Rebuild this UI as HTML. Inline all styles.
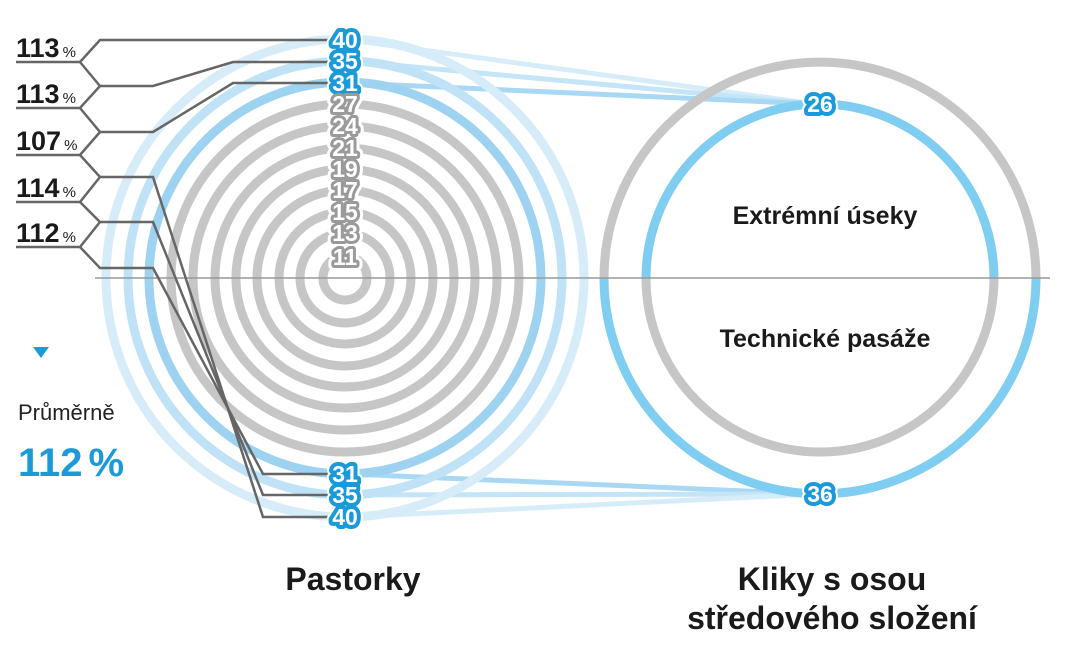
<!DOCTYPE html>
<html><head><meta charset="utf-8"><style>
html,body{margin:0;padding:0;background:#fff;}
svg{display:block;font-family:"Liberation Sans","DejaVu Sans",sans-serif;}
</style></head><body>
<svg width="1073" height="655" viewBox="0 0 1073 655" xmlns="http://www.w3.org/2000/svg">
<g stroke-width="5" fill="none">
<line x1="350" y1="40" x2="815" y2="104" stroke="#d7ecf9"/>
<line x1="350" y1="61" x2="815" y2="104" stroke="#c4e4f7"/>
<line x1="350" y1="83" x2="815" y2="104" stroke="#a8d8f3"/>
<line x1="350" y1="474" x2="815" y2="494" stroke="#a8d8f3"/>
<line x1="350" y1="495" x2="815" y2="494" stroke="#c4e4f7"/>
<line x1="350" y1="517" x2="815" y2="494" stroke="#d7ecf9"/>
</g>
<g fill="none" stroke-width="9">
<circle cx="345" cy="278" r="239" stroke="#d7ecf9"/>
<circle cx="345" cy="278" r="217" stroke="#bfe2f7"/>
<circle cx="345" cy="278" r="196" stroke="#9dd3f1"/>
<g stroke="#c6c6c6">
<circle cx="345" cy="278" r="174"/>
<circle cx="345" cy="278" r="152"/>
<circle cx="345" cy="278" r="130"/>
<circle cx="345" cy="278" r="109"/>
<circle cx="345" cy="278" r="88"/>
<circle cx="345" cy="278" r="66"/>
<circle cx="345" cy="278" r="45"/>
<circle cx="345" cy="278" r="22"/>
</g>
</g>
<g fill="none" stroke-width="9">
<path d="M604 278 A216 216 0 0 1 1036 278" stroke="#c6c6c6"/>
<path d="M646 278 A174 174 0 0 1 994 278" stroke="#7fcdf0"/>
<path d="M604 278 A216 216 0 0 0 1036 278" stroke="#7fcdf0"/>
<path d="M646 278 A174 174 0 0 0 994 278" stroke="#c6c6c6"/>
</g>
<line x1="95" y1="278" x2="1050" y2="278" stroke="#999" stroke-width="1.5"/>
<g fill="none" stroke="#666" stroke-width="2.5">
<polyline points="16,62 80,62 100,40 330,40"/>
<polyline points="80,62 100,86 153,86 233,62 330,62"/>
<polyline points="16,108 80,108 100,86"/>
<polyline points="80,108 100,132 153,132 233,83 330,83"/>
<polyline points="16,155 80,155 100,132"/>
<polyline points="80,155 100,177 153,177 263,517 330,517"/>
<polyline points="16,202 80,202 100,177"/>
<polyline points="80,202 100,222 153,222 263,495 330,495"/>
<polyline points="16,247 80,247 100,222"/>
<polyline points="80,247 100,268 153,268 263,474 330,474"/>
</g>
<g fill="#1a1a1a" font-weight="bold" font-size="27">
<text x="16" y="57">113<tspan font-size="15" font-weight="normal" dx="3">%</tspan></text>
<text x="16" y="103">113<tspan font-size="15" font-weight="normal" dx="3">%</tspan></text>
<text x="16" y="150">107<tspan font-size="15" font-weight="normal" dx="3">%</tspan></text>
<text x="16" y="197">114<tspan font-size="15" font-weight="normal" dx="3">%</tspan></text>
<text x="16" y="242">112<tspan font-size="15" font-weight="normal" dx="3">%</tspan></text>
</g>
<g font-weight="bold" font-size="23" text-anchor="middle" paint-order="stroke" stroke-linejoin="round">
<g stroke="#fff" stroke-width="12" fill="#fff">
<text x="345" y="48">40</text><text x="345" y="69">35</text><text x="345" y="91">31</text>
<text x="345" y="482">31</text><text x="345" y="503">35</text><text x="345" y="525">40</text>
<text x="820" y="112">26</text><text x="820" y="502">36</text>
<text x="345" y="112">27</text><text x="345" y="134">24</text><text x="345" y="156">21</text><text x="345" y="177">19</text><text x="345" y="198">17</text><text x="345" y="220">15</text><text x="345" y="241">13</text><text x="345" y="265">11</text>
</g>
<g stroke="#1a9ad9" stroke-width="8" fill="#fff">
<text x="345" y="48">40</text><text x="345" y="69">35</text><text x="345" y="91">31</text>
<text x="345" y="482">31</text><text x="345" y="503">35</text><text x="345" y="525">40</text>
<text x="820" y="112">26</text><text x="820" y="502">36</text>
</g>
<g stroke="#9a9a9a" stroke-width="6" fill="#fff">
<text x="345" y="112">27</text><text x="345" y="134">24</text><text x="345" y="156">21</text><text x="345" y="177">19</text><text x="345" y="198">17</text><text x="345" y="220">15</text><text x="345" y="241">13</text><text x="345" y="265">11</text>
</g>
</g>
<polygon points="33,347 49,347 41,358" fill="#1a9ad9"/>
<text x="18" y="420" font-size="22" fill="#222">Průměrně</text>
<text x="18" y="476" font-size="40" font-weight="bold" fill="#1a9ad9">112<tspan dx="6">%</tspan></text>
<text x="825" y="224" font-size="25" font-weight="bold" fill="#1a1a1a" text-anchor="middle">Extrémní úseky</text>
<text x="825" y="347" font-size="25" font-weight="bold" fill="#1a1a1a" text-anchor="middle">Technické pasáže</text>
<text x="353" y="590" font-size="32" font-weight="bold" fill="#1a1a1a" text-anchor="middle">Pastorky</text>
<text x="832" y="590" font-size="32" font-weight="bold" fill="#1a1a1a" text-anchor="middle">Kliky s osou</text>
<text x="832" y="629" font-size="32" font-weight="bold" fill="#1a1a1a" text-anchor="middle">středového složení</text>
</svg>
</body></html>
